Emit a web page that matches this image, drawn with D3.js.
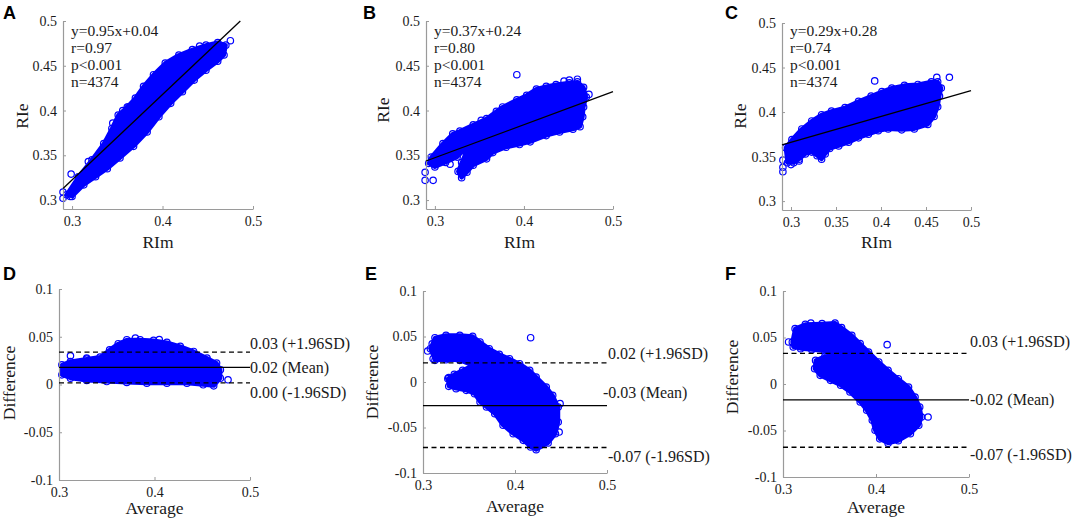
<!DOCTYPE html>
<html>
<head>
<meta charset="utf-8">
<script src="https://cdn.jsdelivr.net/npm/d3@7"></script>
<style>
  body { margin: 0; background: #fff; }
  svg { display: block; }
  text { font-family: "Liberation Serif", "Times New Roman", serif; fill: #1a1a1a; }
</style>
</head>
<body>
<script>
// ---- data ----
// outline of each dense point cloud [x, y] and stray points drawn on their own
var cloudA = [[0.294,0.306],[0.307,0.326],[0.322,0.345],[0.335,0.363],[0.344,0.380],[0.351,0.395],[0.361,0.404],[0.370,0.414],[0.379,0.427],[0.390,0.440],[0.403,0.453],[0.418,0.462],[0.433,0.468],[0.448,0.473],[0.461,0.476],[0.470,0.473],[0.468,0.462],[0.461,0.455],[0.448,0.445],[0.435,0.434],[0.422,0.421],[0.409,0.408],[0.396,0.393],[0.383,0.376],[0.368,0.360],[0.353,0.347],[0.339,0.335],[0.326,0.326],[0.313,0.317],[0.300,0.304]];
var outA = [[0.290,0.309],[0.290,0.302],[0.298,0.304],[0.299,0.329],[0.318,0.343],[0.475,0.478],[0.362,0.404],[0.345,0.386],[0.356,0.400],[0.441,0.472]];

var cloudB = [[0.296,0.348],[0.309,0.363],[0.320,0.374],[0.328,0.377],[0.343,0.384],[0.358,0.391],[0.369,0.399],[0.376,0.404],[0.392,0.412],[0.403,0.417],[0.414,0.424],[0.425,0.427],[0.436,0.429],[0.451,0.431],[0.460,0.432],[0.467,0.426],[0.470,0.415],[0.467,0.404],[0.466,0.393],[0.463,0.382],[0.455,0.379],[0.440,0.376],[0.425,0.372],[0.407,0.365],[0.395,0.362],[0.380,0.359],[0.365,0.353],[0.358,0.346],[0.343,0.339],[0.336,0.331],[0.330,0.325],[0.326,0.332],[0.330,0.342],[0.336,0.356],[0.343,0.366],[0.325,0.348],[0.312,0.342],[0.300,0.337],[0.293,0.341]];
var outB = [[0.289,0.331],[0.289,0.322],[0.298,0.322],[0.392,0.440],[0.451,0.434],[0.460,0.435],[0.473,0.418],[0.317,0.340],[0.445,0.433],[0.352,0.389]];

var cloudC = [[0.294,0.360],[0.301,0.369],[0.312,0.381],[0.323,0.390],[0.334,0.397],[0.345,0.401],[0.360,0.405],[0.375,0.412],[0.389,0.418],[0.401,0.423],[0.412,0.427],[0.426,0.430],[0.441,0.431],[0.456,0.434],[0.463,0.434],[0.467,0.427],[0.465,0.418],[0.463,0.406],[0.459,0.395],[0.452,0.386],[0.437,0.381],[0.423,0.380],[0.408,0.381],[0.397,0.379],[0.386,0.375],[0.375,0.371],[0.364,0.366],[0.353,0.362],[0.343,0.359],[0.338,0.353],[0.334,0.347],[0.329,0.351],[0.323,0.355],[0.316,0.353],[0.309,0.347],[0.303,0.343],[0.296,0.343]];
var outC = [[0.291,0.346],[0.291,0.338],[0.291,0.333],[0.300,0.341],[0.309,0.345],[0.393,0.435],[0.476,0.439],[0.462,0.439]];

var cloudD = [[0.303,0.0206],[0.312,0.0241],[0.329,0.0266],[0.343,0.0287],[0.353,0.0364],[0.362,0.0427],[0.371,0.0469],[0.385,0.0469],[0.399,0.0462],[0.413,0.0441],[0.427,0.0399],[0.441,0.0346],[0.455,0.0276],[0.465,0.0224],[0.469,0.0154],[0.469,0.0066],[0.462,-0.0014],[0.451,-0.0003],[0.434,0.0014],[0.413,0.0014],[0.392,0.0014],[0.371,0.0021],[0.350,0.0031],[0.329,0.0042],[0.312,0.0066],[0.303,0.0101]];
var outD = [[0.312,0.030],[0.329,0.0276],[0.380,0.0486],[0.477,0.0049],[0.405,0.047]];

var cloudE = [[0.308,0.0366],[0.313,0.0487],[0.325,0.0513],[0.340,0.0513],[0.354,0.0502],[0.362,0.0440],[0.372,0.0366],[0.383,0.0304],[0.394,0.0256],[0.405,0.0201],[0.416,0.0128],[0.423,0.0055],[0.434,-0.0055],[0.441,-0.0147],[0.447,-0.0275],[0.447,-0.0440],[0.444,-0.0568],[0.436,-0.0670],[0.423,-0.0744],[0.417,-0.0714],[0.409,-0.0641],[0.398,-0.0568],[0.387,-0.0476],[0.378,-0.0348],[0.369,-0.0275],[0.362,-0.0220],[0.356,-0.0128],[0.347,-0.0092],[0.336,-0.0073],[0.328,-0.0048],[0.327,0.0037],[0.334,0.0084],[0.343,0.0128],[0.354,0.0183],[0.340,0.0238],[0.325,0.0245],[0.313,0.0238]];
var outE = [[0.305,0.034],[0.310,0.042],[0.311,0.0256],[0.417,0.0487],[0.449,-0.0238],[0.448,-0.055],[0.328,0.0048]];

var cloudF = [[0.310,0.0452],[0.313,0.0595],[0.324,0.0642],[0.342,0.0649],[0.356,0.0656],[0.363,0.0606],[0.374,0.0523],[0.383,0.0434],[0.392,0.0344],[0.403,0.0237],[0.413,0.0147],[0.424,0.0057],[0.435,-0.0032],[0.442,-0.0140],[0.447,-0.0247],[0.449,-0.0355],[0.446,-0.0444],[0.437,-0.0534],[0.424,-0.0610],[0.413,-0.0638],[0.404,-0.0590],[0.399,-0.0498],[0.396,-0.0391],[0.390,-0.0283],[0.383,-0.0194],[0.372,-0.0086],[0.362,-0.0014],[0.351,0.0039],[0.340,0.0093],[0.334,0.0165],[0.335,0.0254],[0.345,0.0297],[0.356,0.0315],[0.345,0.0355],[0.331,0.0369],[0.319,0.0380],[0.311,0.0398]];
var outF = [[0.306,0.0452],[0.318,0.0566],[0.412,0.0423],[0.456,-0.0355],[0.341,0.040],[0.330,0.0655],[0.440,-0.0200]];

// regression lines (end points) and their stats
var fitA = [[0.29,0.313],[0.486,0.5]];
var fitB = [[0.29,0.3436],[0.5,0.421]];
var fitC = [[0.29,0.363],[0.5,0.424]];
var statsA = ["y=0.95x+0.04", "r=0.97", "p<0.001", "n=4374"];
var statsB = ["y=0.37x+0.24", "r=0.80", "p<0.001", "n=4374"];
var statsC = ["y=0.29x+0.28", "r=0.74", "p<0.001", "n=4374"];

// Bland-Altman lines: [+1.96SD, mean, -1.96SD]
var limitsD = [0.034, 0.018, 0.0016];
var limitsE = [0.021, -0.026, -0.072];
var limitsF = [0.033, -0.017, -0.068];
var limitLabelsD = ["0.03 (+1.96SD)", "0.02 (Mean)", "0.00 (-1.96SD)"];
var limitLabelsE = ["0.02 (+1.96SD)", "-0.03 (Mean)", "-0.07 (-1.96SD)"];
var limitLabelsF = ["0.03 (+1.96SD)", "-0.02 (Mean)", "-0.07 (-1.96SD)"];

// ticks
var corrTicks = [0.3, 0.35, 0.4, 0.45, 0.5];
var corrXTicks = [0.3, 0.4, 0.5];
var diffTicks = [-0.1, -0.05, 0, 0.05, 0.1];
var avgTicks = [0.3, 0.4, 0.5];

// ---- drawing ----
var svg = d3.select("body").append("svg")
    .attr("width", 1072)
    .attr("height", 520);

var blue = "#0000ff";
var axisGrey = "#9a9a9a";
var fmt = function(d) { return String(+d.toFixed(2)); };

function drawPanel(p) {
  var x = d3.scaleLinear().domain(p.xDomain).range([p.left, p.right]);
  var y = d3.scaleLinear().domain(p.yDomain).range([p.bottom, p.top]);
  var g = svg.append("g");

  // dense cloud body
  g.append("path")
      .datum(p.cloud)
      .attr("d", d3.line().x(function(d) { return x(d[0]); }).y(function(d) { return y(d[1]); }).curve(d3.curveLinearClosed))
      .attr("fill", blue)
      .attr("stroke", blue)
      .attr("stroke-width", 4)
      .attr("stroke-linejoin", "round");

  g.selectAll("circle")
      .data(p.cloud.concat(p.outliers))
    .enter().append("circle")
      .attr("cx", function(d) { return x(d[0]); })
      .attr("cy", function(d) { return y(d[1]); })
      .attr("r", 3.2)
      .attr("fill", "none")
      .attr("stroke", blue)
      .attr("stroke-width", 1.2);

  // axes
  var xAxis = g.append("g")
      .attr("transform", "translate(0," + p.bottom + ")")
      .call(d3.axisBottom(x).tickValues(p.xTicks).tickFormat(fmt).tickSize(-3).tickSizeOuter(0).tickPadding(7));
  var yAxis = g.append("g")
      .attr("transform", "translate(" + p.left + ",0)")
      .call(d3.axisLeft(y).tickValues(p.yTicks).tickFormat(fmt).tickSize(-3).tickSizeOuter(0).tickPadding(6));
  [xAxis, yAxis].forEach(function(a) {
    a.select(".domain").attr("stroke", axisGrey).attr("stroke-width", 1.2);
    a.selectAll(".tick line").attr("stroke", axisGrey);
    a.selectAll(".tick text")
        .attr("fill", "#1a1a1a")
        .style("font-family", '"Liberation Serif", serif')
        .style("font-size", "14px");
  });

  // fit line + stats
  if (p.fit) {
    g.append("path")
        .datum(p.fit)
        .attr("d", d3.line().x(function(d) { return x(d[0]); }).y(function(d) { return y(d[1]); }))
        .attr("stroke", "#000")
        .attr("stroke-width", 1.3)
        .attr("fill", "none");
    g.selectAll("text.stat")
        .data(p.stats)
      .enter().append("text")
        .attr("class", "stat")
        .attr("x", p.left + 8)
        .attr("y", function(d, i) { return 36 + i * 17; })
        .style("font-size", "15.5px")
        .text(function(d) { return d; });
  }

  // Bland-Altman lines + labels
  if (p.limits) {
    g.selectAll("line.lim")
        .data(p.limits)
      .enter().append("line")
        .attr("class", "lim")
        .attr("x1", p.left)
        .attr("x2", p.right)
        .attr("y1", function(d) { return y(d); })
        .attr("y2", function(d) { return y(d); })
        .attr("stroke", "#000")
        .attr("stroke-width", 1.3)
        .attr("stroke-dasharray", function(d, i) { return i === 1 ? null : "5,3.5"; });
    g.selectAll("text.lim")
        .data(p.limitLabels)
      .enter().append("text")
        .attr("class", "lim")
        .attr("x", function(d, i) { return p.labelX[i]; })
        .attr("y", function(d, i) { return p.labelY[i]; })
        .style("font-size", "16px")
        .text(function(d) { return d; });
  }

  // axis titles
  g.append("text")
      .attr("x", (p.left + p.right) / 2)
      .attr("y", p.xTitleY)
      .attr("text-anchor", "middle")
      .style("font-size", "17.5px")
      .text(p.xTitle);
  g.append("text")
      .attr("transform", "translate(" + p.yTitleX + "," + p.yTitleMid + ") rotate(-90)")
      .attr("text-anchor", "middle")
      .style("font-size", "17.5px")
      .text(p.yTitle);

  // panel letter
  g.append("text")
      .attr("x", p.letterX)
      .attr("y", p.letterY)
      .style("font-family", '"Liberation Sans", Arial, sans-serif')
      .style("font-weight", "bold")
      .style("font-size", "18px")
      .style("fill", "#000")
      .text(p.letter);
}

var panels = [
  {letter: "A", letterX: 3, letterY: 19, left: 63, right: 253, top: 21, bottom: 209,
   xDomain: [0.29, 0.5], yDomain: [0.29, 0.5], xTicks: corrXTicks, yTicks: corrTicks,
   cloud: cloudA, outliers: outA, fit: fitA, stats: statsA,
   xTitle: "RIm", xTitleY: 248, yTitle: "RIe", yTitleX: 28, yTitleMid: 116},
  {letter: "B", letterX: 363, letterY: 19, left: 426, right: 613, top: 21, bottom: 209,
   xDomain: [0.29, 0.5], yDomain: [0.29, 0.5], xTicks: corrXTicks, yTicks: corrTicks,
   cloud: cloudB, outliers: outB, fit: fitB, stats: statsB,
   xTitle: "RIm", xTitleY: 248, yTitle: "RIe", yTitleX: 389, yTitleMid: 110},
  {letter: "C", letterX: 725, letterY: 19, left: 782, right: 971, top: 23, bottom: 210,
   xDomain: [0.29, 0.5], yDomain: [0.29, 0.5], xTicks: corrTicks, yTicks: corrTicks,
   cloud: cloudC, outliers: outC, fit: fitC, stats: statsC,
   xTitle: "RIm", xTitleY: 248, yTitle: "RIe", yTitleX: 746, yTitleMid: 116},
  {letter: "D", letterX: 3, letterY: 280, left: 59, right: 250, top: 289, bottom: 480,
   xDomain: [0.3, 0.5], yDomain: [-0.1, 0.1], xTicks: avgTicks, yTicks: diffTicks,
   cloud: cloudD, outliers: outD, limits: limitsD, limitLabels: limitLabelsD,
   labelX: [250, 250, 250], labelY: [349, 373, 398],
   xTitle: "Average", xTitleY: 514, yTitle: "Difference", yTitleX: 15, yTitleMid: 383},
  {letter: "E", letterX: 365, letterY: 280, left: 423, right: 607, top: 291, bottom: 473,
   xDomain: [0.3, 0.5], yDomain: [-0.1, 0.1], xTicks: avgTicks, yTicks: diffTicks,
   cloud: cloudE, outliers: outE, limits: limitsE, limitLabels: limitLabelsE,
   labelX: [608, 603, 608], labelY: [359, 398, 462],
   xTitle: "Average", xTitleY: 512, yTitle: "Difference", yTitleX: 378, yTitleMid: 382},
  {letter: "F", letterX: 725, letterY: 280, left: 783, right: 969, top: 291, bottom: 477,
   xDomain: [0.3, 0.5], yDomain: [-0.1, 0.1], xTicks: avgTicks, yTicks: diffTicks,
   cloud: cloudF, outliers: outF, limits: limitsF, limitLabels: limitLabelsF,
   labelX: [970, 970, 970], labelY: [347, 405, 460],
   xTitle: "Average", xTitleY: 513, yTitle: "Difference", yTitleX: 738, yTitleMid: 377}
];

panels.forEach(drawPanel);
</script>
</body>
</html>
